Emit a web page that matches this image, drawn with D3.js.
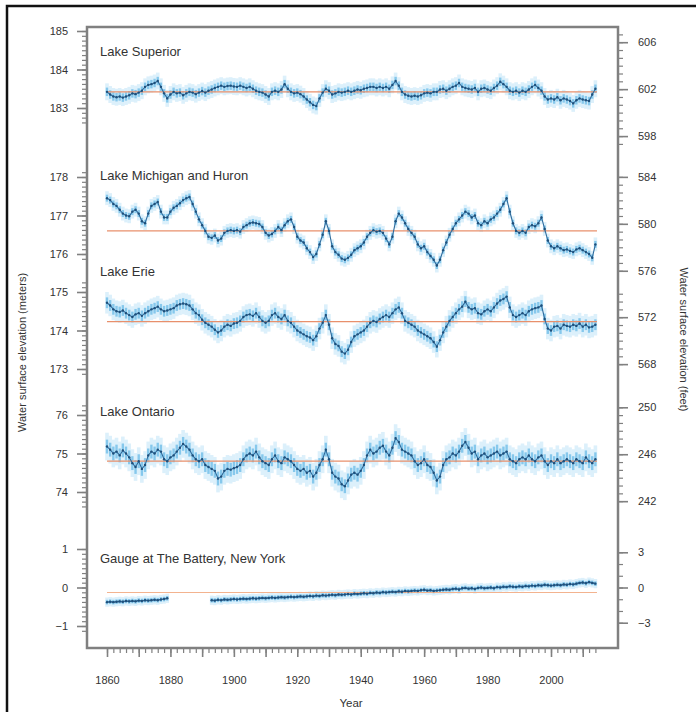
<!DOCTYPE html>
<html>
<head>
<meta charset="utf-8">
<script src="https://cdn.jsdelivr.net/npm/d3@7"></script>
<style>
  body { margin: 0; background: #fff; }
  svg { display: block; font-family: "Liberation Sans", Arial, Helvetica, sans-serif; }
</style>
</head>
<body>
<div id="chart"></div>
<script>
// Annual water levels, 1860-2014 (meters)
const firstYear = 1860;
const lastYear = 2014;

const superior = [
  183.42, 183.35, 183.30, 183.28, 183.30, 183.27, 183.30, 183.33, 183.38, 183.36,
  183.40, 183.45, 183.55, 183.60, 183.62, 183.65, 183.70, 183.55, 183.38, 183.25,
  183.35, 183.42, 183.38, 183.40, 183.33, 183.38, 183.42, 183.40, 183.36, 183.40,
  183.44, 183.40, 183.45, 183.48, 183.52, 183.55, 183.58, 183.55, 183.57, 183.58,
  183.56, 183.55, 183.58, 183.55, 183.52, 183.55, 183.50, 183.45, 183.42, 183.40,
  183.35, 183.30, 183.42, 183.45, 183.42, 183.48, 183.62, 183.50, 183.42, 183.38,
  183.40, 183.36, 183.30, 183.22, 183.15, 183.08, 183.05, 183.25, 183.40, 183.50,
  183.45, 183.35, 183.38, 183.42, 183.40, 183.42, 183.45, 183.42, 183.45, 183.48,
  183.46, 183.50, 183.52, 183.55, 183.55, 183.52, 183.55, 183.52, 183.55, 183.50,
  183.60, 183.70, 183.58, 183.42, 183.35, 183.32, 183.30, 183.32, 183.30, 183.33,
  183.38, 183.40, 183.38, 183.42, 183.42, 183.48, 183.50, 183.45, 183.50, 183.55,
  183.58, 183.65, 183.55, 183.52, 183.50, 183.48, 183.52, 183.42, 183.50, 183.52,
  183.48, 183.45, 183.52, 183.58, 183.68, 183.62, 183.55, 183.45, 183.42, 183.45,
  183.40, 183.45, 183.42, 183.48, 183.55, 183.60, 183.52, 183.45, 183.30, 183.22,
  183.25, 183.22, 183.28, 183.20, 183.25, 183.22, 183.18, 183.12, 183.20, 183.25,
  183.22, 183.20, 183.18, 183.35, 183.50
];

const michiganHuron = [
  177.45, 177.40, 177.30, 177.25, 177.15, 177.05, 177.00, 176.98, 177.10, 177.15,
  177.05, 176.85, 176.80, 177.05, 177.25, 177.30, 177.35, 177.10, 176.95, 176.95,
  177.10, 177.20, 177.25, 177.32, 177.40, 177.45, 177.48, 177.30, 177.10, 176.90,
  176.75, 176.60, 176.45, 176.42, 176.48, 176.35, 176.40, 176.55, 176.60, 176.62,
  176.60, 176.62, 176.58, 176.70, 176.75, 176.80, 176.82, 176.80, 176.78, 176.70,
  176.55, 176.48, 176.52, 176.60, 176.70, 176.62, 176.75, 176.85, 176.90, 176.70,
  176.45, 176.35, 176.30, 176.15, 176.05, 175.92, 176.00, 176.25, 176.50, 176.85,
  176.60, 176.20, 176.05, 175.98, 175.88, 175.85, 175.90, 175.98, 176.10, 176.15,
  176.20, 176.30, 176.45, 176.55, 176.62, 176.58, 176.60, 176.55, 176.40, 176.25,
  176.45, 176.85, 177.05, 176.95, 176.80, 176.65, 176.55, 176.45, 176.25, 176.15,
  176.20, 176.05, 175.95, 175.85, 175.70, 175.85, 176.10, 176.30, 176.50, 176.65,
  176.80, 176.90, 177.00, 177.10, 177.05, 176.95, 177.00, 176.80, 176.75, 176.85,
  176.80, 176.90, 176.95, 177.05, 177.15, 177.30, 177.45, 177.10, 176.80, 176.60,
  176.55, 176.60, 176.55, 176.70, 176.75, 176.72, 176.80, 176.95, 176.65, 176.35,
  176.20, 176.15, 176.20, 176.15, 176.10, 176.12, 176.08, 176.05, 176.12, 176.15,
  176.10, 176.05, 176.00, 175.90, 176.25
];

const erie = [
  174.72, 174.65, 174.55, 174.50, 174.48, 174.52, 174.45, 174.40, 174.35, 174.42,
  174.45, 174.38, 174.45, 174.50, 174.55, 174.58, 174.62, 174.55, 174.50, 174.52,
  174.55, 174.58, 174.65, 174.68, 174.70, 174.68, 174.65, 174.55, 174.45, 174.40,
  174.28, 174.20, 174.15, 174.10, 174.02, 173.95, 174.00, 174.10, 174.15, 174.12,
  174.18, 174.20, 174.25, 174.35, 174.40, 174.42, 174.38, 174.45, 174.35, 174.25,
  174.20, 174.25, 174.40, 174.45, 174.35, 174.30, 174.40, 174.25, 174.20, 174.10,
  174.00, 173.95, 173.90, 173.85, 173.82, 173.75, 173.85, 174.05, 174.20, 174.40,
  174.15, 173.80, 173.65, 173.60, 173.45, 173.40, 173.50, 173.70, 173.85, 173.90,
  173.95, 174.00, 174.10, 174.20, 174.25, 174.22, 174.30, 174.35, 174.40, 174.35,
  174.45, 174.55, 174.60, 174.45, 174.25, 174.20, 174.15, 174.10, 174.00, 173.95,
  173.90, 173.85, 173.80, 173.70, 173.58, 173.75, 173.95, 174.10, 174.25, 174.35,
  174.45, 174.55, 174.62, 174.75, 174.60, 174.55, 174.58, 174.45, 174.42, 174.50,
  174.55, 174.50, 174.60, 174.70, 174.78, 174.82, 174.88, 174.60, 174.40, 174.35,
  174.40, 174.45, 174.40, 174.50, 174.55, 174.58, 174.60, 174.65, 174.30, 174.05,
  174.00, 174.10, 174.12, 174.05, 174.15, 174.12, 174.10, 174.15, 174.12, 174.18,
  174.10, 174.15, 174.08, 174.10, 174.15
];

const ontario = [
  75.18, 75.10, 75.00, 75.05, 74.95, 75.08, 75.00, 74.90, 74.75, 74.65,
  74.80, 74.60, 74.70, 74.95, 75.05, 75.00, 75.10, 75.05, 74.85, 74.80,
  74.90, 74.95, 75.05, 75.15, 75.25, 75.18, 75.10, 74.95, 74.85, 74.80,
  74.85, 74.70, 74.65, 74.60, 74.55, 74.35, 74.40, 74.55, 74.60, 74.58,
  74.62, 74.65, 74.70, 74.85, 74.95, 75.00, 74.95, 75.05, 74.90, 74.80,
  74.75, 74.70, 74.85, 74.95, 74.80, 74.75, 74.90, 74.85, 74.80, 74.70,
  74.60, 74.55, 74.60, 74.50, 74.55, 74.40, 74.50, 74.70, 74.85, 75.10,
  74.85, 74.50, 74.40, 74.35, 74.20, 74.15, 74.30, 74.45, 74.50, 74.45,
  74.55, 74.70, 74.95, 75.10, 75.00, 75.05, 75.15, 75.20, 75.05, 74.95,
  75.15, 75.40, 75.30, 75.10, 75.05, 75.00, 74.95, 74.80, 74.70, 74.75,
  74.85, 74.70, 74.65, 74.50, 74.30, 74.40, 74.70, 74.85, 74.90, 75.00,
  74.95, 75.05, 75.20, 75.30, 75.15, 75.00, 75.05, 74.85, 74.95, 75.00,
  74.90, 74.95, 75.00, 75.05, 74.95, 75.00, 75.05, 74.85, 74.80, 74.75,
  74.85, 74.90, 74.85, 74.95, 74.85, 74.80, 74.90, 74.95, 74.80, 74.70,
  74.80, 74.75, 74.85, 74.75, 74.80, 74.85, 74.80, 74.75, 74.85, 74.80,
  74.75, 74.90, 74.80, 74.75, 74.85
];

// The Battery, relative level (m); gauge gap 1880-1892
const battery = [
  -0.38, -0.37, -0.38, -0.37, -0.36, -0.37, -0.35, -0.36, -0.35, -0.36,
  -0.34, -0.35, -0.33, -0.34, -0.33, -0.32, -0.33, -0.31, -0.30, -0.28,
  null, null, null, null, null, null, null, null, null, null,
  null, null, null, -0.33, -0.34, -0.32, -0.33, -0.31, -0.32, -0.31,
  -0.30, -0.31, -0.30, -0.29, -0.30, -0.29, -0.28, -0.29, -0.28, -0.27,
  -0.28, -0.27, -0.26, -0.27, -0.26, -0.25, -0.26, -0.25, -0.24, -0.25,
  -0.24, -0.23, -0.24, -0.23, -0.22, -0.23, -0.21, -0.22, -0.20, -0.21,
  -0.20, -0.19, -0.20, -0.18, -0.19, -0.18, -0.17, -0.18, -0.16, -0.17,
  -0.16, -0.15, -0.16, -0.14, -0.15, -0.13, -0.14, -0.12, -0.13, -0.12,
  -0.11, -0.12, -0.10, -0.11, -0.09, -0.10, -0.09, -0.08, -0.09, -0.07,
  -0.06, -0.08, -0.07, -0.09, -0.08, -0.07, -0.06, -0.05, -0.06, -0.04,
  -0.03, -0.05, -0.02, -0.01, -0.03, -0.02, -0.04, -0.01, 0.00, -0.02,
  -0.01, 0.00, -0.02, 0.01, 0.00, 0.02, 0.01, 0.03, 0.02, 0.01,
  0.03, 0.02, 0.04, 0.03, 0.05, 0.04, 0.06, 0.05, 0.07, 0.06,
  0.05, 0.06, 0.07, 0.06, 0.08, 0.07, 0.09, 0.08, 0.10, 0.12,
  0.13, 0.11, 0.14, 0.12, 0.10
];

const panelNames = ["Lake Superior", "Lake Michigan and Huron", "Lake Erie", "Lake Ontario", "Gauge at The Battery, New York"];
const panelSeries = [superior, michiganHuron, erie, ontario, battery];
const refLevels = [183.42, 176.6, 174.23, 74.8, -0.13];
const spreads = [0.11, 0.09, 0.14, 0.18, 0.06];

// tick labels, meters (left) and feet (right)
const meterTicks = [[183, 184, 185], [176, 177, 178], [173, 174, 175], [74, 75, 76], [-1, 0, 1]];
const meterRanges = [[182.625, 185], [175.875, 178.125], [172.875, 175.25], [73.625, 76.25], [-1.125, 1]];
const feetTicks = [[598, 602, 606], [576, 580, 584], [568, 572], [242, 246, 250], [-3, 0, 3]];
const feetRanges = [[597, 606.7], [575.7, 584.4], [567.4, 574.2], [241.5, 250.6], [-3.3, 3.3]];
const feetMinorSteps = [4 / 6, 4 / 6, 4 / 6, 4 / 6, 1];
const yearLabels = [1860, 1880, 1900, 1920, 1940, 1960, 1980, 2000];

const FT_PER_M = 3.28084;

// layout
const width = 696, height = 712;
const box = { left: 87, right: 618, top: 27, bottom: 648 };
const pxPerMeter = 38.5;
const anchorY = [69.5, 215.5, 330.5, 453.5, 587.5]; // y of middle meter tick
const titleY = [56, 180, 276, 416, 563];
const axisColor = "#808080";
const textColor = "#333";

const svg = d3.select("#chart").append("svg").attr("width", width).attr("height", height);
svg.append("rect").attr("width", width).attr("height", height).attr("fill", "#fff");

// outer frame
svg.append("path")
  .attr("d", `M7,${height} V6 H${width}`)
  .attr("fill", "none")
  .attr("stroke", "#111")
  .attr("stroke-width", 2.5);

const x = d3.scaleLinear().domain([1860, 2000]).range([107, 551]);
const years = d3.range(firstYear, lastYear + 1);

function minorValues(lo, hi, origin, step) {
  const i0 = Math.ceil((lo - origin) / step - 1e-6);
  const i1 = Math.floor((hi - origin) / step + 1e-6);
  return d3.range(i0, i1 + 1).map(i => origin + i * step);
}

function styleAxis(g) {
  g.select(".domain").remove();
  g.selectAll("line").attr("stroke", axisColor).attr("stroke-width", 1.2);
  g.selectAll("text").attr("fill", textColor).style("font-size", "11px");
}

panelSeries.forEach((series, i) => {
  const mid = meterTicks[i][1];
  const y = d3.scaleLinear()
    .domain([mid - 1, mid + 1])
    .range([anchorY[i] + pxPerMeter, anchorY[i] - pxPerMeter]);
  const yFt = d3.scaleLinear()
    .domain(y.domain().map(m => m * FT_PER_M))
    .range(y.range());

  const pts = years.map((yr, j) => ({ year: yr, v: series[j] })).filter(d => d.v != null);
  const s = spreads[i];
  const g = svg.append("g");

  // pale halo
  g.selectAll(".halo").data(pts).join("rect")
    .attr("x", d => x(d.year) - 1.8)
    .attr("width", 3.6)
    .attr("y", d => y(d.v + 2 * s))
    .attr("height", d => y(d.v - 2 * s) - y(d.v + 2 * s))
    .attr("fill", "#dcf0fb");

  // error bars
  g.selectAll(".err").data(pts).join("line")
    .attr("x1", d => x(d.year)).attr("x2", d => x(d.year))
    .attr("y1", d => y(d.v + s)).attr("y2", d => y(d.v - s))
    .attr("stroke", "#86c8ec")
    .attr("stroke-width", 2.4);

  // long-term reference level
  g.append("line")
    .attr("x1", x(firstYear)).attr("x2", x(lastYear + 0.5))
    .attr("y1", y(refLevels[i])).attr("y2", y(refLevels[i]))
    .attr("stroke", i === 4 ? "#f3b38f" : "#e8906c")
    .attr("stroke-width", 1.2);

  // level trace
  const line = d3.line()
    .defined(d => d.v != null)
    .x(d => x(d.year))
    .y(d => y(d.v));
  g.append("path")
    .datum(years.map((yr, j) => ({ year: yr, v: series[j] })))
    .attr("d", line)
    .attr("fill", "none")
    .attr("stroke", "#2f6b9c")
    .attr("stroke-width", i === 4 ? 1.6 : 1.1);
  g.selectAll(".pt").data(pts).join("circle")
    .attr("cx", d => x(d.year))
    .attr("cy", d => y(d.v))
    .attr("r", 1.2)
    .attr("fill", "#1f4f7a");

  // panel title
  svg.append("text")
    .attr("x", 100)
    .attr("y", titleY[i])
    .attr("fill", textColor)
    .style("font-size", "13px")
    .text(panelNames[i]);

  // left axis (meters)
  const [mlo, mhi] = meterRanges[i];
  svg.append("g")
    .attr("transform", `translate(${box.left},0)`)
    .call(d3.axisLeft(y).tickValues(minorValues(mlo, mhi, mid, 0.125)).tickSize(5).tickFormat(""))
    .call(styleAxis);
  svg.append("g")
    .attr("transform", `translate(${box.left},0)`)
    .call(d3.axisLeft(y).tickValues(meterTicks[i]).tickSize(10).tickPadding(9).tickFormat(d3.format("d")))
    .call(styleAxis)
    .call(g => g.selectAll("line").attr("stroke-width", 1.6));

  // right axis (feet)
  const [flo, fhi] = feetRanges[i];
  svg.append("g")
    .attr("transform", `translate(${box.right},0)`)
    .call(d3.axisRight(yFt).tickValues(minorValues(flo, fhi, feetTicks[i][0], feetMinorSteps[i])).tickSize(5).tickFormat(""))
    .call(styleAxis);
  svg.append("g")
    .attr("transform", `translate(${box.right},0)`)
    .call(d3.axisRight(yFt).tickValues(feetTicks[i]).tickSize(10).tickPadding(10).tickFormat(d3.format("d")))
    .call(styleAxis)
    .call(g => g.selectAll("line").attr("stroke-width", 1.6));
});

// bottom axis
svg.append("g")
  .attr("transform", `translate(0,${box.bottom})`)
  .call(d3.axisBottom(x).tickValues(d3.range(firstYear, lastYear + 1, 2)).tickSize(5).tickFormat(""))
  .call(styleAxis);
svg.append("g")
  .attr("transform", `translate(0,${box.bottom})`)
  .call(d3.axisBottom(x).tickValues(d3.range(firstYear, 2011, 10)).tickSize(9).tickFormat(""))
  .call(styleAxis)
  .call(g => g.selectAll("line").attr("stroke-width", 1.6));
svg.append("g")
  .attr("transform", `translate(0,${box.bottom})`)
  .call(d3.axisBottom(x).tickValues(yearLabels).tickSize(0).tickPadding(28).tickFormat(d3.format("d")))
  .call(styleAxis);

// plot box
svg.append("rect")
  .attr("x", box.left).attr("y", box.top)
  .attr("width", box.right - box.left)
  .attr("height", box.bottom - box.top)
  .attr("fill", "none")
  .attr("stroke", axisColor)
  .attr("stroke-width", 2.5);

// axis titles
svg.append("text")
  .attr("transform", `translate(26,${(box.top + box.bottom) / 2 + 15}) rotate(-90)`)
  .attr("text-anchor", "middle")
  .attr("fill", textColor)
  .style("font-size", "11px")
  .text("Water surface elevation (meters)");
svg.append("text")
  .attr("transform", `translate(680,${(box.top + box.bottom) / 2 + 2}) rotate(90)`)
  .attr("text-anchor", "middle")
  .attr("fill", textColor)
  .style("font-size", "11px")
  .text("Water surface elevation (feet)");
svg.append("text")
  .attr("x", 351)
  .attr("y", 707)
  .attr("text-anchor", "middle")
  .attr("fill", textColor)
  .style("font-size", "11.5px")
  .text("Year");
</script>
</body>
</html>
